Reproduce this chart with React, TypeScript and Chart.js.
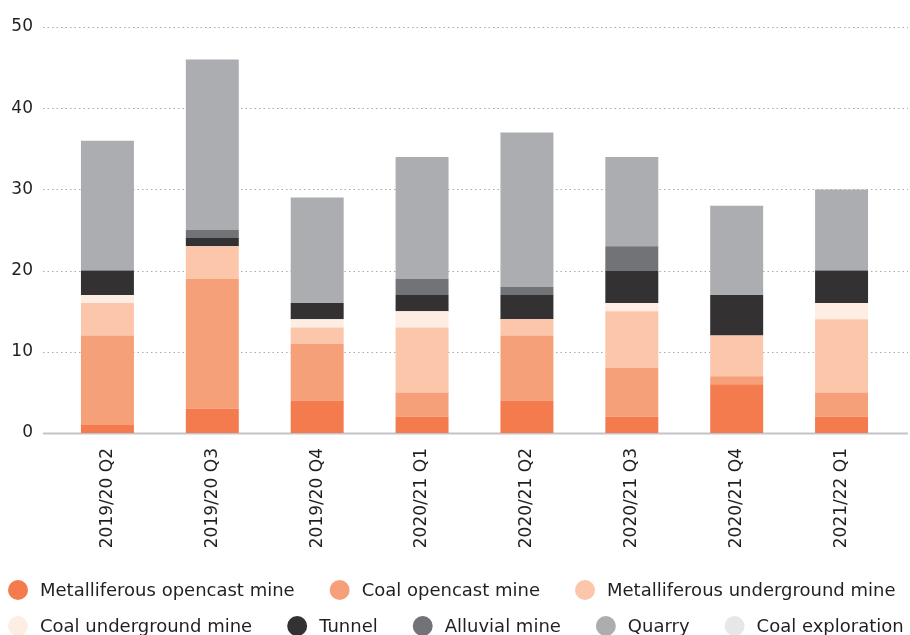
import React, { useEffect, useRef } from "react";
import { Chart, registerables } from "chart.js";

Chart.register(...registerables);

const quarters = [
  "2019/20 Q2",
  "2019/20 Q3",
  "2019/20 Q4",
  "2020/21 Q1",
  "2020/21 Q2",
  "2020/21 Q3",
  "2020/21 Q4",
  "2021/22 Q1",
];

const metalliferousOpencast = [1, 3, 4, 2, 4, 2, 6, 2];
const coalOpencast = [11, 16, 7, 3, 8, 6, 1, 3];
const metalliferousUnderground = [4, 4, 2, 8, 2, 7, 5, 9];
const coalUnderground = [1, 0, 1, 2, 0, 1, 0, 2];
const tunnel = [3, 1, 2, 2, 3, 4, 5, 4];
const alluvial = [0, 1, 0, 2, 1, 3, 0, 0];
const quarry = [16, 21, 13, 15, 19, 11, 11, 10];
const coalExploration = [0, 0, 0, 0, 0, 0, 0, 0];

const yTicks = [0, 10, 20, 30, 40, 50];

// Legend rows: dataset indices shown on each line.
const legendRows = [
  [0, 1, 2],
  [3, 4, 5, 6, 7],
];

const FONT = "'DejaVu Sans', sans-serif";
const TEXT = "#231f20";

// Dotted horizontal guides that run a little past the bars on both sides,
// with a solid baseline at zero.
const guides = {
  id: "guides",
  beforeDatasetsDraw(chart: any) {
    const { ctx, chartArea, scales } = chart;
    const y = scales.y;
    const x0 = chartArea.left - 12;
    const x1 = chartArea.right + 14;
    ctx.save();
    yTicks.forEach((v) => {
      const py = Math.round(y.getPixelForValue(v)) + 0.5;
      ctx.beginPath();
      if (v === 0) {
        ctx.setLineDash([]);
        ctx.strokeStyle = "#c4c4c8";
        ctx.lineWidth = 2;
      } else {
        ctx.setLineDash([1.5, 3]);
        ctx.strokeStyle = "#a9aaad";
        ctx.lineWidth = 1;
      }
      ctx.moveTo(x0, py);
      ctx.lineTo(x1, py);
      ctx.stroke();
    });
    ctx.restore();
  },
};

// Two-row legend with round swatches, laid out left to right below the axis labels.
const roundLegend = {
  id: "roundLegend",
  afterDraw(chart: any) {
    const { ctx } = chart;
    const datasets = chart.data.datasets;
    const radius = 10;
    const textGap = 12;
    const itemGap = 35;
    const rowY = [590, 626];
    ctx.save();
    ctx.font = `18px ${FONT}`;
    ctx.textBaseline = "middle";
    ctx.textAlign = "left";
    legendRows.forEach((row, r) => {
      let x = 8;
      row.forEach((i) => {
        const ds = datasets[i];
        ctx.beginPath();
        ctx.fillStyle = ds.backgroundColor;
        ctx.arc(x + radius, rowY[r], radius, 0, Math.PI * 2);
        ctx.fill();
        const tx = x + radius * 2 + textGap;
        ctx.fillStyle = TEXT;
        ctx.fillText(ds.label, tx, rowY[r] + 1);
        x = tx + ctx.measureText(ds.label).width + itemGap;
      });
    });
    ctx.restore();
  },
};

export default function App() {
  const ref = useRef<HTMLCanvasElement | null>(null);

  useEffect(() => {
    if (!ref.current) return;
    const series = [
      { label: "Metalliferous opencast mine", data: metalliferousOpencast, color: "#f47b4e" },
      { label: "Coal opencast mine", data: coalOpencast, color: "#f6a07a" },
      { label: "Metalliferous underground mine", data: metalliferousUnderground, color: "#fbc6aa" },
      { label: "Coal underground mine", data: coalUnderground, color: "#fdede3" },
      { label: "Tunnel", data: tunnel, color: "#333132" },
      { label: "Alluvial mine", data: alluvial, color: "#727376" },
      { label: "Quarry", data: quarry, color: "#acadb0" },
      { label: "Coal exploration", data: coalExploration, color: "#e6e7e8" },
    ];

    const chart = new Chart(ref.current, {
      type: "bar",
      data: {
        labels: quarters,
        datasets: series.map((s) => ({
          label: s.label,
          data: s.data,
          backgroundColor: s.color,
          borderWidth: 0,
          barPercentage: 0.505,
          categoryPercentage: 1,
        })),
      },
      plugins: [guides, roundLegend],
      options: {
        animation: false,
        responsive: false,
        maintainAspectRatio: false,
        layout: { padding: { top: 27, right: 16, bottom: 82, left: 0 } },
        plugins: {
          tooltip: { enabled: false },
          legend: { display: false },
        },
        scales: {
          x: {
            stacked: true,
            grid: { display: false, drawTicks: false },
            border: { display: false },
            ticks: {
              color: TEXT,
              font: { family: FONT, size: 17 },
              minRotation: 90,
              maxRotation: 90,
              padding: 15,
            },
            afterFit(scale: any) {
              scale.height = 120;
            },
          },
          y: {
            stacked: true,
            min: 0,
            max: 50,
            grid: { display: false, drawTicks: false },
            border: { display: false },
            ticks: {
              stepSize: 10,
              color: TEXT,
              font: { family: FONT, size: 17 },
              padding: 22,
            },
            afterFit(scale: any) {
              scale.width = 55;
              scale.paddingTop = 0;
              scale.paddingBottom = 0;
            },
          },
        },
      },
    });
    return () => chart.destroy();
  }, []);

  return (
    <div style={{ position: "fixed", left: 0, top: 0, width: 910, height: 635, background: "#fff" }}>
      <canvas ref={ref} width={910} height={635} style={{ width: 910, height: 635 }} />
    </div>
  );
}
